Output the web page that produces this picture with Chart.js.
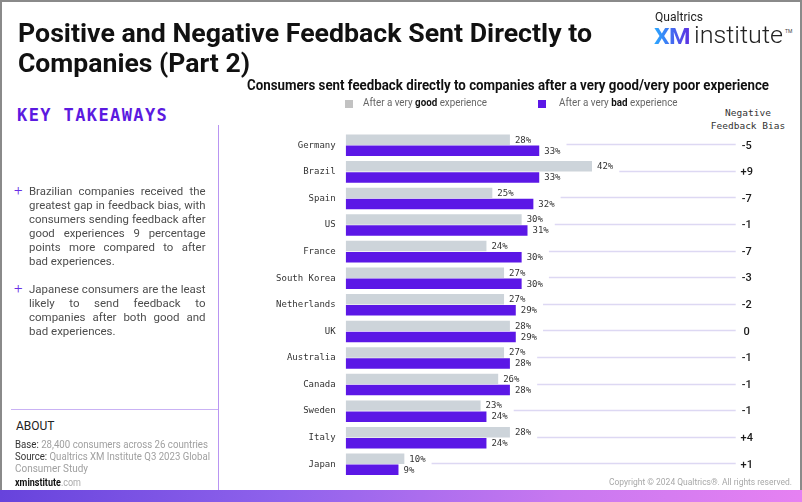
<!DOCTYPE html>
<html>
<head>
<meta charset="utf-8">
<script src="https://cdn.jsdelivr.net/npm/chart.js@4.4.1/dist/chart.umd.min.js"></script>
<style>
  html, body { margin: 0; padding: 0; }
  body { width: 802px; height: 502px; position: relative; overflow: hidden; background: #fff; font-family: Roboto, sans-serif; }
  .abs { position: absolute; }
  .fit { display: inline-block; white-space: nowrap; transform-origin: left top; }
  #frame { left: 0; top: 0; width: 798px; height: 500px; border: 2px solid #8a8a8a; border-bottom: none; }
  #title { left: 18px; top: 17.8px; font-weight: 700; font-size: 26px; line-height: 30px; color: #111; }
  #subtitle { left: 247px; top: 77px; font-weight: 700; font-size: 14px; line-height: 16px; color: #111; }
  .legtxt { font-size: 10.5px; line-height: 12px; color: #666; }
  .legtxt b { color: #111; }
  .sq { width: 8px; height: 8px; }
  #biasHead { left: 698px; top: 105.5px; width: 100px; text-align: center; font-family: "DejaVu Sans Mono", monospace; font-size: 9.5px; line-height: 13.5px; color: #333; }
  #kt { left: 17px; top: 104.5px; font-family: "DejaVu Sans Mono", monospace; font-weight: 700; font-size: 17px; line-height: 20px; letter-spacing: 1.4px; color: #5b1ae0; }
  .plus { left: 14px; font-size: 15px; line-height: 14px; color: #6a2ee6; font-weight: 300; }
  .para { left: 29px; transform-origin: left top; font-size: 11.5px; line-height: 14px; color: #4d4d4d; }
  .para .ln { white-space: nowrap; text-align: justify; }
  .para .ln.j { text-align-last: justify; }
  #vline { left: 218px; top: 125px; width: 1px; height: 366px; background: #b995f2; }
  #hline { left: 11px; top: 409px; width: 207px; height: 1px; background: #c9b2f4; }
  #about { left: 16px; top: 419px; font-size: 12px; line-height: 15px; color: #222; }
  .src { left: 14.7px; font-size: 10.5px; line-height: 12px; color: #a0a0a0; }
  .src b { font-weight: 400; color: #333; }
  #xmurl { left: 14.7px; top: 477px; font-size: 10px; line-height: 12px; color: #aaa; }
  #xmurl b { color: #111; font-weight: 700; }
  #copy { top: 476px; font-size: 9.5px; line-height: 12px; color: #a8a8a8; }
  #bottom { left: 0; top: 490px; width: 802px; height: 12px; background: linear-gradient(90deg, #6743dc 0%, #8f62ec 35%, #c878f0 70%, #e681f2 100%); }
  #qual { left: 655px; top: 9px; font-size: 12.5px; line-height: 15px; color: #222; }
  #xm { left: 654px; top: 24px; font-size: 22px; line-height: 26px; font-weight: 700; letter-spacing: -0.5px;
        background: linear-gradient(90deg, #2aa9ff, #5d2fe2); -webkit-background-clip: text; background-clip: text; color: transparent; }
  #inst { left: 694px; top: 23px; font-size: 23px; line-height: 26px; font-weight: 300; color: #222; }
  #tm { left: 785px; top: 28px; font-size: 5px; line-height: 6px; color: #444; }
  #chartBox { left: 240px; top: 110px; }
</style>
</head>
<body>
<div id="frame" class="abs"></div>

<div id="title" class="abs">
  <div class="fit" data-w="574">Positive and Negative Feedback Sent Directly to</div><br>
  <div class="fit" data-w="232">Companies (Part 2)</div>
</div>

<div id="qual" class="abs fit" data-w="48">Qualtrics</div>
<div id="xm" class="abs fit" data-w="36">XM</div>
<div id="inst" class="abs fit" data-w="89">institute</div>
<div id="tm" class="abs">TM</div>

<div id="subtitle" class="abs fit" data-w="522">Consumers sent feedback directly to companies after a very good/very poor experience</div>

<div class="abs sq" style="left:345px; top:100px; background:#c2c2c2;"></div>
<div class="abs fit legtxt" style="left:362.5px; top:97px;" data-w="124">After a very <b>good</b> experience</div>
<div class="abs sq" style="left:538px; top:100px; background:#5b17e6;"></div>
<div class="abs fit legtxt" style="left:559px; top:97px;" data-w="118.5">After a very <b>bad</b> experience</div>

<div id="biasHead" class="abs">Negative<br>Feedback Bias</div>

<div id="kt" class="abs">KEY TAKEAWAYS</div>
<div id="vline" class="abs"></div>

<div class="abs plus" style="top:183px;">+</div>
<div class="abs para" style="top:184.3px;">
  <div class="ln j">Brazilian companies received the</div>
  <div class="ln j">greatest gap in feedback bias, with</div>
  <div class="ln j">consumers sending feedback after</div>
  <div class="ln j">good experiences 9 percentage</div>
  <div class="ln j">points more compared to after</div>
  <div class="ln">bad experiences.</div>
</div>
<div class="abs plus" style="top:281px;">+</div>
<div class="abs para" style="top:282px;">
  <div class="ln j">Japanese consumers are the least</div>
  <div class="ln j">likely to send feedback to</div>
  <div class="ln j">companies after both good and</div>
  <div class="ln">bad experiences.</div>
</div>

<div id="hline" class="abs"></div>
<div id="about" class="abs">ABOUT</div>
<div class="abs fit src" style="top:438.5px;" data-w="193"><b>Base:</b> 28,400 consumers across 26 countries</div>
<div class="abs fit src" style="top:451px;" data-w="195"><b>Source:</b> Qualtrics XM Institute Q3 2023 Global</div>
<div class="abs fit src" style="top:463px;" data-w="73">Consumer Study</div>
<div id="xmurl" class="abs fit" data-w="66"><b>xminstitute</b>.com</div>
<div id="copy" class="abs fit" data-w="183" data-right="792">Copyright © 2024 Qualtrics®. All rights reserved.</div>

<div id="bottom" class="abs"></div>

<div id="chartBox" class="abs"><canvas id="feedbackChart" width="560" height="383"></canvas></div>

<script>
const countries = ["Germany", "Brazil", "Spain", "US", "France", "South Korea", "Netherlands", "UK", "Australia", "Canada", "Sweden", "Italy", "Japan"];
const goodPct = [28, 42, 25, 30, 24, 27, 27, 28, 27, 26, 23, 28, 10];
const badPct = [33, 33, 32, 31, 30, 30, 29, 29, 28, 28, 24, 24, 9];
const biasVals = [-5, 9, -7, -1, -7, -3, -2, 0, -1, -1, -1, 4, 1];

// squeeze text blocks to the widths of the reference (narrow fonts aren't installed)
document.querySelectorAll("[data-w]").forEach(el => {
  const w = el.getBoundingClientRect().width;
  const s = el.dataset.w / w;
  el.style.transform = "scaleX(" + s + ")";
  if (el.dataset.right) {
    el.style.left = (el.dataset.right - el.dataset.w) + "px";
  }
});

// justified bullet text, line breaks kept as in the picture
const mctx = document.createElement("canvas").getContext("2d");
mctx.font = "11.5px Roboto";
document.querySelectorAll(".para").forEach(p => {
  let maxW = 0;
  p.querySelectorAll(".ln").forEach(l => { maxW = Math.max(maxW, mctx.measureText(l.textContent).width); });
  const target = 176.5;
  const s = Math.min(1, target / (maxW + 1));
  p.style.width = (target / s) + "px";
  p.style.transform = "scaleX(" + s + ")";
});

const barLabels = {
  id: "barLabels",
  afterDatasetsDraw(chart) {
    const ctx = chart.ctx;
    const xs = chart.scales.x;
    const ys = chart.scales.y;
    ctx.save();
    ctx.font = '9px "DejaVu Sans Mono"';
    ctx.fillStyle = "#333";
    ctx.textBaseline = "middle";
    ctx.textAlign = "left";
    chart.data.datasets.forEach((ds, i) => {
      chart.getDatasetMeta(i).data.forEach((bar, j) => {
        ctx.fillText(ds.data[j] + "%", bar.x + 5, bar.y + 0.5);
      });
    });

    // connector lines to the bias column
    countries.forEach((c, j) => {
      const y = Math.round(ys.getPixelForValue(j) - 1) + 0.5;
      const m = Math.max(goodPct[j], badPct[j]);
      const x0 = xs.getPixelForValue(m) + 5 + ctx.measureText(m + "%").width + 6;
      ctx.strokeStyle = "#ddd8f3";
      ctx.lineWidth = 1.3;
      ctx.beginPath();
      ctx.moveTo(x0, y);
      ctx.lineTo(chart.chartArea.right, y);
      ctx.stroke();
    });

    ctx.font = '500 11px Roboto';
    ctx.fillStyle = "#1a1a1a";
    ctx.textAlign = "center";
    biasVals.forEach((b, j) => {
      const txt = b > 0 ? "+" + b : String(b);
      ctx.fillText(txt, chart.chartArea.right + 11, ys.getPixelForValue(j) + 0.5);
    });
    ctx.restore();
  }
};

new Chart(document.getElementById("feedbackChart"), {
  type: "bar",
  data: {
    labels: countries,
    datasets: [
      {
        label: "After a very good experience",
        data: goodPct,
        backgroundColor: "#cdd4da",
        barPercentage: 0.95,
        categoryPercentage: 0.83
      },
      {
        label: "After a very bad experience",
        data: badPct,
        backgroundColor: "#5b17e6",
        barPercentage: 0.95,
        categoryPercentage: 0.83
      }
    ]
  },
  options: {
    indexAxis: "y",
    responsive: false,
    animation: false,
    layout: { padding: { top: 22, bottom: 0, right: 64.3, left: 0 } },
    plugins: {
      legend: { display: false },
      tooltip: { enabled: false }
    },
    scales: {
      x: { display: false, min: 0, max: 66.5 },
      y: {
        grid: { display: false, drawTicks: false },
        border: { display: false },
        ticks: {
          font: { family: "DejaVu Sans Mono", size: 9 },
          color: "#333",
          padding: 10
        },
        afterFit(scale) { scale.width = 105.7; }
      }
    }
  },
  plugins: [barLabels]
});
</script>
</body>
</html>
